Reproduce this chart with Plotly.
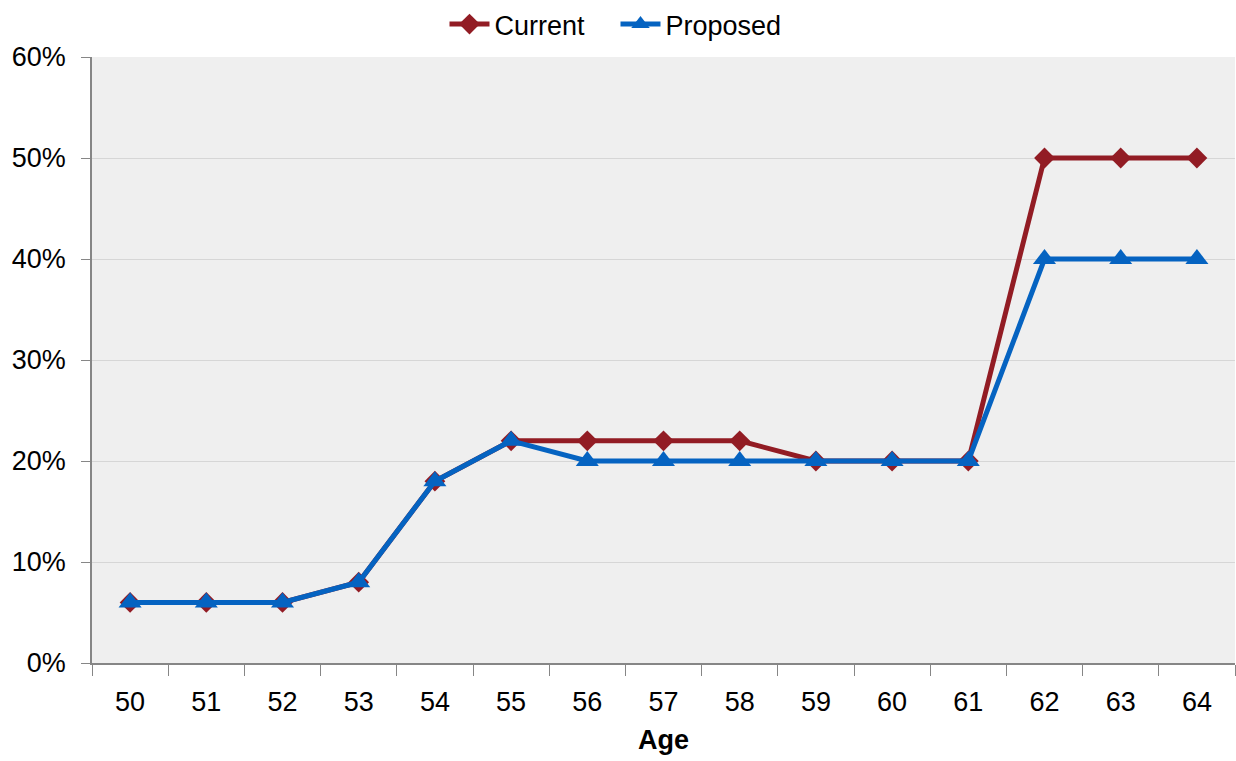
import plotly.graph_objects as go

ages = ["50", "51", "52", "53", "54", "55", "56", "57", "58", "59", "60", "61", "62", "63", "64"]
current = [0.06, 0.06, 0.06, 0.08, 0.18, 0.22, 0.22, 0.22, 0.22, 0.20, 0.20, 0.20, 0.50, 0.50, 0.50]
proposed = [0.06, 0.06, 0.06, 0.08, 0.18, 0.22, 0.20, 0.20, 0.20, 0.20, 0.20, 0.20, 0.40, 0.40, 0.40]

FONT = "Liberation Sans Narrow, Arial Narrow, Liberation Sans, Arial, sans-serif"

fig = go.Figure()
fig.add_trace(go.Scatter(
    x=ages, y=current, name="Current", mode="lines+markers",
    line=dict(color="#921c24", width=5),
    marker=dict(symbol="diamond", size=16, color="#921c24", line=dict(width=0)),
))
fig.add_trace(go.Scatter(
    x=ages, y=proposed, name="Proposed", mode="lines+markers",
    line=dict(color="#0563c1", width=5),
    marker=dict(symbol="triangle-up", size=20, color="#0563c1", line=dict(width=0)),
))

fig.update_layout(
    width=1236, height=761,
    margin=dict(l=92, r=1, t=57, b=98, autoexpand=False),
    paper_bgcolor="white",
    plot_bgcolor="#efefef",
    font=dict(family=FONT, size=27, color="black"),
    showlegend=True,
    legend=dict(orientation="h", x=0.458, xanchor="center", yref="container", y=1.0, yanchor="top",
                font=dict(size=27), bgcolor="rgba(0,0,0,0)", itemwidth=40,
                entrywidth=116, entrywidthmode="pixels"),
)
fig.update_xaxes(
    type="category", range=[-0.5, 14.5], tickson="boundaries", ticks="outside", ticklen=11,
    tickcolor="#868686", showline=True, linecolor="#868686", linewidth=1.5,
    showgrid=False, tickfont=dict(size=27), ticklabelstandoff=14,
    title=dict(text="<b>Age</b>", font=dict(size=27), standoff=14),
)
fig.update_yaxes(
    range=[0, 0.6], dtick=0.1, tickformat=".0%", ticks="outside", ticklen=9,
    tickcolor="#868686", showline=True, linecolor="#868686", linewidth=1.5,
    showgrid=True, gridcolor="#d6d6d6", gridwidth=1, zeroline=False,
    tickfont=dict(size=27), ticklabelstandoff=10,
)

fig.write_html("out.html")
